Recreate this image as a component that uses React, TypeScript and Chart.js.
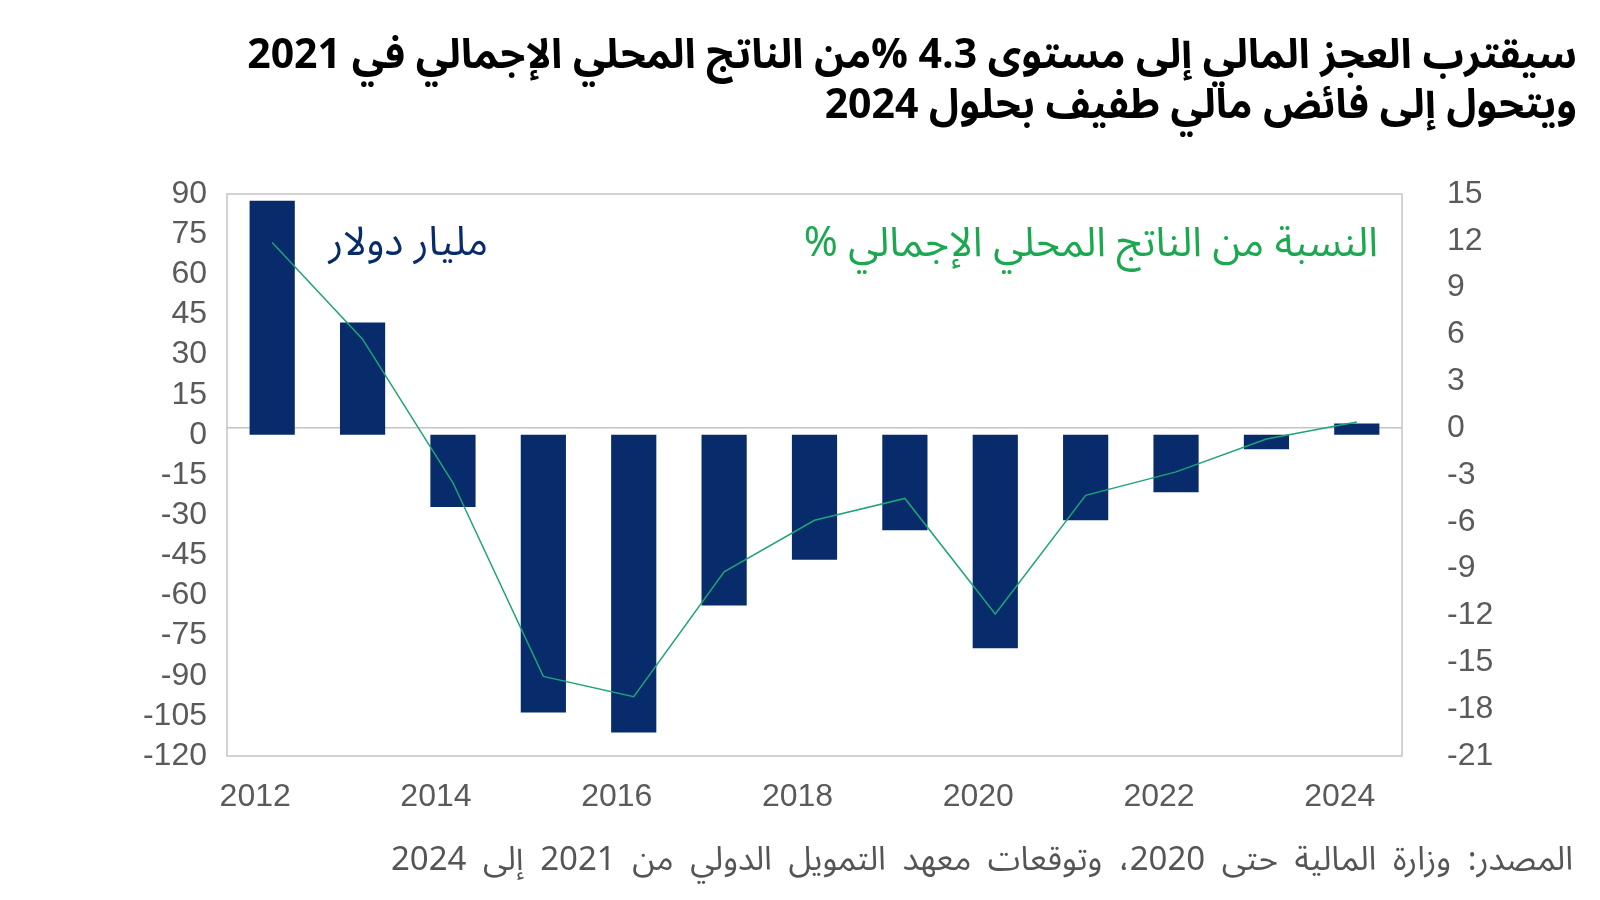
import React, { useEffect, useRef } from "react";
import { Chart, registerables } from "chart.js";

Chart.register(...registerables);

// ---- data ----
const years = ["2012", "2013", "2014", "2015", "2016", "2017", "2018", "2019", "2020", "2021", "2022", "2023", "2024"];
const shownYearLabels = ["2012", "2014", "2016", "2018", "2020", "2022", "2024"];
const balanceBnUsd = [87.5, 42, -27, -103.7, -111.2, -63.8, -46.7, -35.6, -79.7, -31.9, -21.4, -5.4, 4.2];
const balancePctGdp = [11.9, 5.7, -3.5, -15.9, -17.2, -9.2, -5.9, -4.5, -11.9, -4.3, -2.8, -0.7, 0.4];
const leftTicks = [90, 75, 60, 45, 30, 15, 0, -15, -30, -45, -60, -75, -90, -105, -120];
const rightTicks = [15, 12, 9, 6, 3, 0, -3, -6, -9, -12, -15, -18, -21];

const titleLine1 = "سيقترب العجز المالي إلى مستوى 4.3 %من الناتج المحلي الإجمالي في 2021";
const titleLine2 = "ويتحول إلى فائض مالي طفيف بحلول 2024";
const barLabel = "مليار دولار";
const lineLabel = "النسبة من الناتج المحلي الإجمالي %";
const sourceText = "المصدر: وزارة المالية حتى 2020، وتوقعات معهد التمويل الدولي من 2021 إلى 2024";

const NAVY = "#072b6b";
const GREEN_TEXT = "#1ca850";
const GREEN_LINE = "#1fa475";
const TICK = "#5a5a5a";
const FRAME = "#c4c4c4";
const ARABIC = "'Noto Sans Arabic', 'DejaVu Sans', sans-serif";
const NUM_FONT = "'Liberation Sans', Arial, sans-serif";

const framePlugin = {
  id: "frame",
  beforeDatasetsDraw(chart: any) {
    const { ctx, chartArea } = chart;
    ctx.save();
    ctx.strokeStyle = FRAME;
    ctx.lineWidth = 1.5;
    ctx.strokeRect(chartArea.left, chartArea.top, chartArea.right - chartArea.left, chartArea.bottom - chartArea.top);
    ctx.restore();
  },
};

export default function App() {
  const ref = useRef<HTMLCanvasElement | null>(null);

  useEffect(() => {
    if (!ref.current) return;
    const chart = new Chart(ref.current, {
      type: "bar",
      data: {
        labels: years,
        datasets: [
          {
            type: "line",
            label: lineLabel,
            data: balancePctGdp,
            yAxisID: "yR",
            borderColor: GREEN_LINE,
            borderWidth: 1.5,
            pointRadius: 0,
            tension: 0,
            fill: false,
            order: 0,
          } as any,
          {
            type: "bar",
            label: barLabel,
            data: balanceBnUsd,
            yAxisID: "yL",
            backgroundColor: NAVY,
            categoryPercentage: 1,
            barPercentage: 0.5,
            order: 1,
          },
        ],
      },
      options: {
        responsive: false,
        animation: false,
        layout: { padding: { left: 0, right: 0, top: 194, bottom: 0 } },
        plugins: { legend: { display: false }, tooltip: { enabled: false }, title: { display: false } },
        scales: {
          x: {
            type: "category",
            grid: { display: false, drawTicks: false },
            border: { display: false },
            afterFit: (s: any) => {
              s.height = 144;
            },
            ticks: {
              autoSkip: false,
              maxRotation: 0,
              padding: 22,
              labelOffset: -17,
              color: TICK,
              font: { family: NUM_FONT, size: 32 },
              callback: (_v: any, i: number) => (shownYearLabels.includes(years[i]) ? years[i] : ""),
            },
          },
          yL: {
            type: "linear",
            position: "left",
            min: -120,
            max: 90,
            grid: { display: false, drawTicks: false },
            border: { display: false },
            afterFit: (s: any) => {
              s.width = 227;
            },
            afterBuildTicks: (s: any) => {
              s.ticks = leftTicks.map((v) => ({ value: v }));
            },
            ticks: {
              autoSkip: false,
              padding: 20,
              color: TICK,
              font: { family: NUM_FONT, size: 32 },
            },
          },
          yR: {
            type: "linear",
            position: "right",
            min: -21,
            max: 15,
            grid: {
              drawTicks: false,
              color: (c: any) => (c.tick && c.tick.value === 0 ? FRAME : "rgba(0,0,0,0)"),
              lineWidth: 1.5,
            },
            border: { display: false },
            afterFit: (s: any) => {
              s.width = 198;
            },
            afterBuildTicks: (s: any) => {
              s.ticks = rightTicks.map((v) => ({ value: v }));
            },
            ticks: {
              autoSkip: false,
              padding: 45,
              color: TICK,
              font: { family: NUM_FONT, size: 32 },
            },
          },
        },
      },
      plugins: [framePlugin],
    });
    return () => chart.destroy();
  }, []);

  return (
    <div style={{ position: "fixed", left: 0, top: 0, width: 1600, height: 900, background: "#fff", overflow: "hidden" }}>
      <canvas ref={ref} width={1600} height={900} style={{ position: "absolute", left: 0, top: 0, width: 1600, height: 900 }} />
      <div
        dir="rtl"
        style={{
          position: "absolute",
          right: 23,
          top: 30,
          textAlign: "right",
          fontFamily: ARABIC,
          fontWeight: 700,
          fontSize: 41,
          lineHeight: "50px",
          color: "#000",
          whiteSpace: "nowrap",
        }}
      >
        <div>{titleLine1}</div>
        <div>{titleLine2}</div>
      </div>
      <div
        dir="rtl"
        style={{ position: "absolute", right: 1112, top: 218, fontFamily: ARABIC, fontSize: 40, lineHeight: "50px", color: NAVY, whiteSpace: "nowrap" }}
      >
        {barLabel}
      </div>
      <div
        dir="rtl"
        style={{ position: "absolute", right: 222, top: 218, fontFamily: ARABIC, fontSize: 41, lineHeight: "50px", color: GREEN_TEXT, whiteSpace: "nowrap" }}
      >
        {lineLabel}
      </div>
      <div
        dir="rtl"
        style={{ position: "absolute", right: 27, top: 840, fontFamily: ARABIC, fontSize: 33, lineHeight: "40px", wordSpacing: 8, color: "#555", whiteSpace: "nowrap" }}
      >
        {sourceText}
      </div>
    </div>
  );
}
